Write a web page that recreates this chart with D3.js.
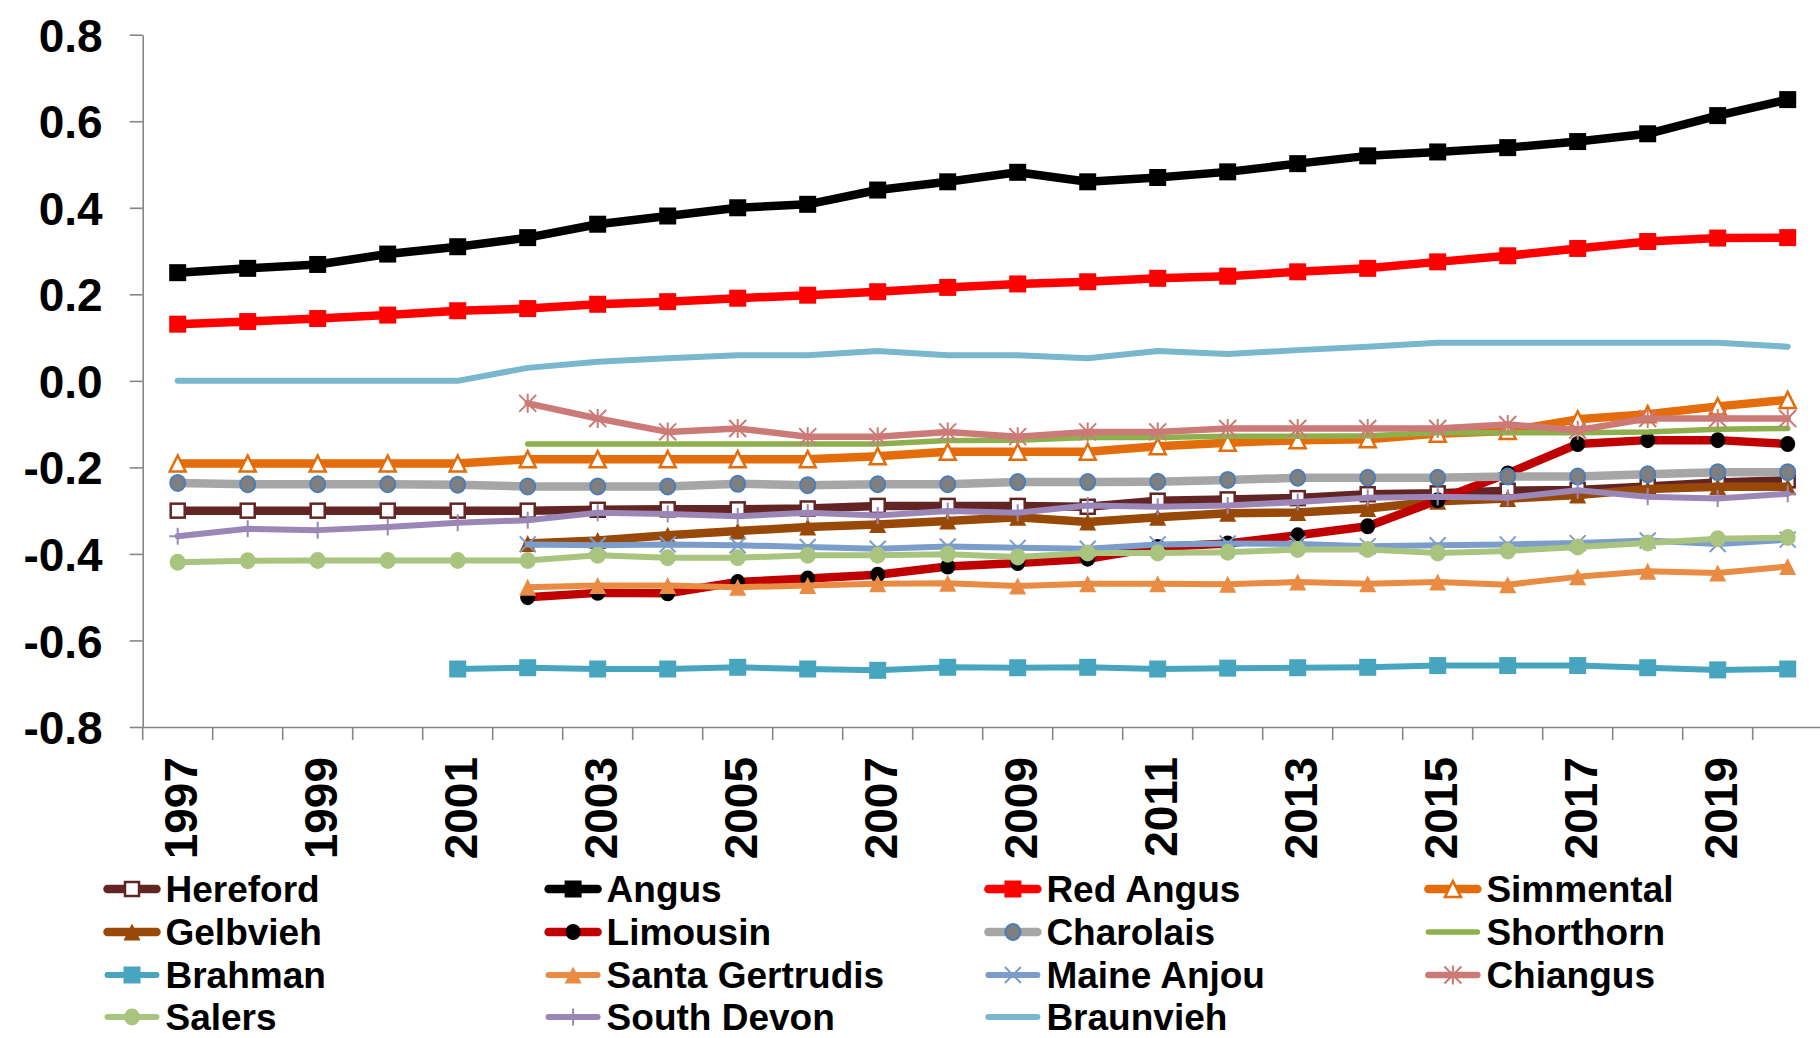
<!DOCTYPE html>
<html>
<head>
<meta charset="utf-8">
<script src="https://cdn.jsdelivr.net/npm/d3@7"></script>
<style>
  body { margin: 0; background: #fff; }
  svg { display: block; }
  text { font-family: "Liberation Sans", Arial, sans-serif; font-weight: bold; fill: #000; }
</style>
</head>
<body>
<svg id="chart" width="1820" height="1038"></svg>
<script>
// Breed trend values by year (null = no value reported that year)
const years = [1997, 1998, 1999, 2000, 2001, 2002, 2003, 2004, 2005, 2006, 2007, 2008,
               2009, 2010, 2011, 2012, 2013, 2014, 2015, 2016, 2017, 2018, 2019, 2020];

const yTicks = [-0.8, -0.6, -0.4, -0.2, 0.0, 0.2, 0.4, 0.6, 0.8];

const breedNames = ["Hereford", "Angus", "Red Angus", "Simmental", "Gelbvieh", "Limousin",
                    "Charolais", "Shorthorn", "Brahman", "Santa Gertrudis", "Maine Anjou",
                    "Chiangus", "Salers", "South Devon", "Braunvieh"];

const hereford = [-0.300, -0.300, -0.300, -0.300, -0.300, -0.300, -0.298, -0.297, -0.297, -0.295, -0.289, -0.289,
                  -0.289, -0.291, -0.277, -0.274, -0.271, -0.262, -0.260, -0.254, -0.252, -0.244, -0.235, -0.230];
const angus = [0.250, 0.260, 0.269, 0.293, 0.310, 0.331, 0.362, 0.381, 0.400, 0.408, 0.441, 0.460,
               0.482, 0.460, 0.470, 0.483, 0.502, 0.520, 0.529, 0.539, 0.553, 0.571, 0.613, 0.650];
const redAngus = [0.131, 0.137, 0.144, 0.152, 0.162, 0.167, 0.177, 0.183, 0.191, 0.198, 0.206, 0.216,
                  0.224, 0.229, 0.237, 0.242, 0.252, 0.260, 0.275, 0.289, 0.306, 0.322, 0.330, 0.331];
const simmental = [-0.191, -0.191, -0.191, -0.191, -0.191, -0.181, -0.181, -0.181, -0.181, -0.181, -0.174, -0.164,
                   -0.164, -0.164, -0.151, -0.143, -0.137, -0.135, -0.122, -0.116, -0.089, -0.077, -0.059, -0.044];
const gelbvieh = [null, null, null, null, null, -0.376, -0.369, -0.357, -0.347, -0.338, -0.332, -0.324,
                  -0.315, -0.326, -0.315, -0.306, -0.304, -0.295, -0.278, -0.272, -0.264, -0.250, -0.245, -0.245];
const limousin = [null, null, null, null, null, -0.500, -0.490, -0.491, -0.465, -0.457, -0.448, -0.429,
                  -0.421, -0.411, -0.384, -0.376, -0.357, -0.336, -0.276, -0.214, -0.146, -0.137, -0.137, -0.146];
const charolais = [-0.236, -0.239, -0.239, -0.239, -0.240, -0.244, -0.244, -0.244, -0.238, -0.241, -0.239, -0.239,
                   -0.234, -0.234, -0.233, -0.229, -0.224, -0.224, -0.224, -0.221, -0.221, -0.216, -0.211, -0.211];
const shorthorn = [null, null, null, null, null, -0.146, -0.146, -0.146, -0.146, -0.146, -0.146, -0.138,
                   -0.137, -0.131, -0.131, -0.128, -0.128, -0.127, -0.120, -0.120, -0.120, -0.118, -0.112, -0.110];
const brahman = [null, null, null, null, -0.666, -0.663, -0.666, -0.666, -0.662, -0.666, -0.669, -0.662,
                 -0.663, -0.662, -0.666, -0.664, -0.663, -0.662, -0.658, -0.658, -0.658, -0.663, -0.668, -0.666];
const santaGertrudis = [null, null, null, null, null, -0.477, -0.473, -0.473, -0.477, -0.473, -0.469, -0.468,
                        -0.474, -0.469, -0.469, -0.470, -0.465, -0.469, -0.465, -0.471, -0.453, -0.440, -0.444, -0.429];
const maineAnjou = [null, null, null, null, null, -0.378, -0.380, -0.378, -0.380, -0.384, -0.388, -0.383,
                    -0.386, -0.388, -0.378, -0.376, -0.377, -0.382, -0.380, -0.378, -0.375, -0.369, -0.377, -0.367];
const chiangus = [null, null, null, null, null, -0.052, -0.087, -0.118, -0.110, -0.129, -0.129, -0.118,
                  -0.129, -0.118, -0.118, -0.110, -0.110, -0.110, -0.110, -0.101, -0.114, -0.087, -0.087, -0.087];
const salers = [-0.419, -0.416, -0.415, -0.415, -0.415, -0.415, -0.403, -0.409, -0.409, -0.403, -0.403, -0.401,
                -0.407, -0.398, -0.398, -0.396, -0.390, -0.390, -0.398, -0.393, -0.384, -0.375, -0.365, -0.362];
const southDevon = [-0.359, -0.342, -0.345, -0.338, -0.328, -0.322, -0.305, -0.308, -0.313, -0.305, -0.311, -0.301,
                    -0.305, -0.288, -0.291, -0.288, -0.280, -0.270, -0.268, -0.270, -0.253, -0.268, -0.272, -0.261];
const braunvieh = [0.000, 0.000, 0.000, 0.000, 0.000, 0.030, 0.044, 0.052, 0.059, 0.059, 0.069, 0.059,
                   0.059, 0.052, 0.069, 0.062, 0.071, 0.079, 0.088, 0.088, 0.088, 0.088, 0.088, 0.079];

const seriesValues = [hereford, angus, redAngus, simmental, gelbvieh, limousin, charolais, shorthorn,
                      brahman, santaGertrudis, maineAnjou, chiangus, salers, southDevon, braunvieh];

// Line and marker styling per breed
const styles = [
  { color: "#632523", width: 8.5, marker: "square", size: 14, fill: "#ffffff", stroke: "#632523", sw: 2.5 },
  { color: "#000000", width: 8.5, marker: "square", size: 17, fill: "#000000", stroke: "none", sw: 0 },
  { color: "#ff0000", width: 8.5, marker: "square", size: 17, fill: "#ff0000", stroke: "none", sw: 0 },
  { color: "#e46c0a", width: 8.5, marker: "triangle", size: 16, fill: "#ffffff", stroke: "#e46c0a", sw: 2.5 },
  { color: "#984807", width: 8.5, marker: "triangle", size: 17, fill: "#984807", stroke: "none", sw: 0 },
  { color: "#c00000", width: 8.5, marker: "circle", size: 16, fill: "#000000", stroke: "none", sw: 0 },
  { color: "#a6a6a6", width: 8.5, marker: "circle", size: 16, fill: "#7f7f7f", stroke: "#4a7ebb", sw: 2 },
  { color: "#8db04d", width: 5.5, marker: "none" },
  { color: "#47a5bf", width: 6, marker: "square", size: 17, fill: "#47a5bf", stroke: "none", sw: 0 },
  { color: "#ea8b43", width: 6, marker: "triangle", size: 17, fill: "#ea8b43", stroke: "none", sw: 0 },
  { color: "#7b9dcb", width: 6, marker: "times", size: 16, stroke: "#7b9dcb", sw: 2 },
  { color: "#cc7a77", width: 6.5, marker: "asterisk", size: 17, stroke: "#cc7a77", sw: 2 },
  { color: "#a9c47f", width: 6, marker: "circle", size: 17, fill: "#a9c47f", stroke: "none", sw: 0 },
  { color: "#9a87b8", width: 6, marker: "plus", size: 17, stroke: "#9a87b8", sw: 2 },
  { color: "#78b7ce", width: 6, marker: "none" }
];

const series = breedNames.map((name, i) => ({ name, values: seriesValues[i], style: styles[i] }));

const svg = d3.select("#chart");

const plotLeft = 142.7, band = 70;
const x = d3.scaleBand().domain(years).range([plotLeft, plotLeft + band * years.length]).padding(0);
const y = d3.scaleLinear().domain([-0.8, 0.8]).range([727, 34.7]);

const axisColor = "#868686";

// Y axis
const fmt = v => d3.format(".1f")(v).replace("\u2212", "-");
const yAxis = svg.append("g")
  .attr("transform", `translate(${plotLeft},0)`)
  .call(d3.axisLeft(y).tickValues(yTicks).tickFormat(fmt).tickSize(13).tickSizeOuter(0).tickPadding(27));
yAxis.select(".domain").attr("stroke", axisColor).attr("stroke-width", 1.6);
yAxis.selectAll(".tick line").attr("stroke", axisColor).attr("stroke-width", 1.6);
yAxis.selectAll(".tick text")
  .attr("font-size", 46).attr("font-family", "Liberation Sans, Arial, sans-serif")
  .attr("font-weight", "bold").attr("fill", "#000").attr("dy", "0.36em");

// X axis: labels on odd years, ticks at category boundaries
const xAxis = svg.append("g")
  .attr("transform", "translate(0,727)")
  .call(d3.axisBottom(x).tickSize(0).tickSizeOuter(0)
    .tickFormat(d => (d % 2 === 1 ? String(d) : "")));
xAxis.select(".domain").attr("stroke", axisColor).attr("stroke-width", 1.6);
xAxis.selectAll(".tick text")
  .attr("font-size", 46).attr("font-family", "Liberation Sans, Arial, sans-serif")
  .attr("font-weight", "bold").attr("fill", "#000")
  .attr("transform", "rotate(-90)")
  .attr("text-anchor", "end")
  .attr("x", -30).attr("y", 19).attr("dy", 0);
const boundaries = d3.range(years.length + 1).map(i => x.range()[0] + i * x.step());
xAxis.selectAll(".bound").data(boundaries).join("line")
  .attr("class", "bound")
  .attr("x1", d => d).attr("x2", d => d).attr("y1", 0).attr("y2", 13)
  .attr("stroke", axisColor).attr("stroke-width", 1.6);

// Marker drawing
function drawMarker(g, st) {
  const h = st.size / 2;
  if (st.marker === "square") {
    g.append("rect").attr("x", -h).attr("y", -h).attr("width", st.size).attr("height", st.size)
      .attr("fill", st.fill).attr("stroke", st.stroke).attr("stroke-width", st.sw);
  } else if (st.marker === "triangle") {
    g.append("path").attr("d", `M0,${-h}L${h},${h}L${-h},${h}Z`)
      .attr("fill", st.fill).attr("stroke", st.stroke).attr("stroke-width", st.sw)
      .attr("stroke-linejoin", "miter");
  } else if (st.marker === "circle") {
    g.append("ellipse").attr("rx", h - 0.5).attr("ry", h)
      .attr("fill", st.fill).attr("stroke", st.stroke).attr("stroke-width", st.sw);
  } else if (st.marker === "times") {
    g.append("path").attr("d", `M${-h},${-h}L${h},${h}M${h},${-h}L${-h},${h}`)
      .attr("fill", "none").attr("stroke", st.stroke).attr("stroke-width", st.sw);
  } else if (st.marker === "asterisk") {
    g.append("path").attr("d", `M${-h},${-h}L${h},${h}M${h},${-h}L${-h},${h}M0,${-h - 1}L0,${h + 1}`)
      .attr("fill", "none").attr("stroke", st.stroke).attr("stroke-width", st.sw);
  } else if (st.marker === "plus") {
    g.append("path").attr("d", `M0,${-h}L0,${h}M${-h},0L${h},0`)
      .attr("fill", "none").attr("stroke", st.stroke).attr("stroke-width", st.sw);
  }
}

const cx = d => x(d.year) + x.bandwidth() / 2;
const line = d3.line()
  .defined(d => d.value !== null)
  .x(cx)
  .y(d => y(d.value));

const plot = svg.append("g");
series.forEach(s => {
  const pts = years.map((yr, i) => ({ year: yr, value: s.values[i] }));
  const g = plot.append("g");
  g.append("path")
    .datum(pts)
    .attr("d", line)
    .attr("fill", "none")
    .attr("stroke", s.style.color)
    .attr("stroke-width", s.style.width)
    .attr("stroke-linejoin", "round")
    .attr("stroke-linecap", "round");
  if (s.style.marker !== "none") {
    pts.filter(p => p.value !== null).forEach(p => {
      const m = g.append("g").attr("transform", `translate(${cx(p)},${y(p.value)})`);
      drawMarker(m, s.style);
    });
  }
});

// Legend: four columns, row-major order
const legendCols = [104.5, 545.6, 985.4, 1425.4];
const legendRows = [889, 932, 975, 1017];
const legend = svg.append("g");
series.forEach((s, i) => {
  const lx = legendCols[i % 4], ly = legendRows[Math.floor(i / 4)];
  const g = legend.append("g").attr("transform", `translate(${lx},${ly})`);
  g.append("line").attr("x1", 3).attr("x2", 52).attr("y1", 0).attr("y2", 0)
    .attr("stroke", s.style.color).attr("stroke-width", s.style.width)
    .attr("stroke-linecap", "round");
  if (s.style.marker !== "none") {
    const m = g.append("g").attr("transform", "translate(27.5,0)");
    drawMarker(m, s.style);
  }
  g.append("text").attr("x", 61).attr("y", 12.5)
    .attr("font-size", 37)
    .text(s.name);
});
</script>
</body>
</html>
